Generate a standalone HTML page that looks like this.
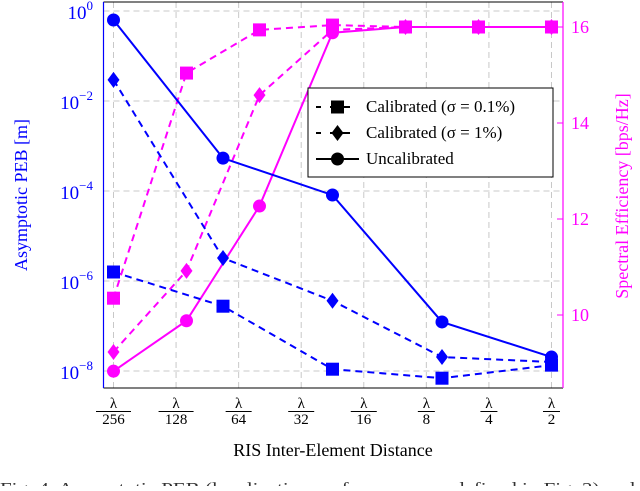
<!DOCTYPE html>
<html><head><meta charset="utf-8"><style>
body{margin:0;background:#fff;width:640px;height:486px;overflow:hidden}
svg text{font-family:"Liberation Serif",serif}
</style></head><body>
<svg id="c" width="640" height="486"></svg>
<script>
const xTicks=['256','128','64','32','16','8','4','2'];
const yLeftExp=[0,-2,-4,-6,-8];
const yRightTicks=[10,12,14,16];
// blue series: log10(PEB), x in tick units
const blueX=[0,1.75,3.5,5.25,7];
const pebCal01=[-5.8,-6.56,-7.96,-8.16,-7.87];
const pebCal1=[-1.53,-5.49,-6.44,-7.69,-7.8];
const pebUncal=[-0.2,-3.27,-4.09,-6.91,-7.69];
// magenta series: spectral efficiency
const magX=[0,1.1667,2.3333,3.5,4.6667,5.8333,7];
const seCal01=[10.35,15.04,15.94,16.04,16,16,16];
const seCal1=[9.23,10.92,14.58,15.94,16,16,16];
const seUncal=[8.83,9.88,12.27,15.88,16,16,16];

const NS='http://www.w3.org/2000/svg';
const svg=document.getElementById('c');
const L=103.5,R=563,T=2,B=388;
const xs=i=>113.5+i*62.57;
const yL=e=>11+(-e)*45;
const yR=v=>27+(16-v)*48;
function el(tag,a,p){const e=document.createElementNS(NS,tag);for(const k in a)e.setAttribute(k,a[k]);(p||svg).appendChild(e);return e;}
function tx(x,y,s,a,p){const t=el('text',Object.assign({x:x,y:y},a||{}),p);t.textContent=s;return t;}

// grid
xTicks.forEach((t,i)=>{const g=el('line',{x1:xs(i),x2:xs(i),y1:T,y2:B,stroke:'#c8c8c8','stroke-dasharray':'6,4','stroke-width':1});
});
yLeftExp.forEach(e=>{const g=el('line',{x1:L,x2:R,y1:yL(e),y2:yL(e),stroke:'#c8c8c8','stroke-dasharray':'6,4','stroke-width':1});
});
// frame
el('line',{x1:L,x2:R,y1:T,y2:T,stroke:'#000','stroke-width':1});
el('line',{x1:L,x2:R,y1:B,y2:B,stroke:'#000','stroke-width':1});
const la=el('line',{x1:L,x2:L,y1:T,y2:B,stroke:'#0000ff','stroke-width':1.2});

const ra=el('line',{x1:R,x2:R,y1:T,y2:B,stroke:'#ff00ff','stroke-width':1.2});

yRightTicks.forEach(v=>{el('line',{x1:R-6,x2:R,y1:yR(v),y2:yR(v),stroke:'#ff00ff'});
const t=tx(R+8,yR(v)+6,String(v),{fill:'#ff00ff','font-size':18});
});
// left tick labels
yLeftExp.forEach(e=>{const t=tx(93,yL(e)+8,'',{fill:'#0000ff','font-size':19,'text-anchor':'end'});
const a=el('tspan',{},t);a.textContent='10';
const b=el('tspan',{dy:-9,'font-size':13},t);b.textContent=(e===0?'0':'\u2212'+(-e));
});
// x tick labels
xTicks.forEach((s,i)=>{const g=el('g',{});

tx(xs(i),408,'λ',{'font-size':15,'text-anchor':'middle'},g);
el('line',{x1:xs(i)-(s.length*4.5+4),x2:xs(i)+(s.length*4.5+4),y1:411.5,y2:411.5,stroke:'#000','stroke-width':0.9},g);
tx(xs(i),424,s,{'font-size':15,'text-anchor':'middle'},g);});

function marker(type,x,y,c,g){
 if(type==='sq')return el('rect',{x:x-6.5,y:y-6.5,width:13,height:13,fill:c},g);
 if(type==='di')return el('polygon',{points:`${x},${y-8} ${x+6},${y} ${x},${y+8} ${x-6},${y}`,fill:c},g);
 return el('circle',{cx:x,cy:y,r:6.5,fill:c},g);
}
function series(name,X,V,yf,c,dash,mk){
 const g=el('g',{});
 const pts=X.map((x,i)=>[xs(x),yf(V[i])]);
 el('polyline',{points:pts.map(p=>p.join(',')).join(' '),fill:'none',stroke:c,'stroke-width':2,'stroke-dasharray':dash?'7,5':'none'},g);
 pts.forEach(q=>{const m=marker(mk,q[0],q[1],c,g);});
}
series('se-calibrated-01',magX,seCal01,yR,'#ff00ff',true,'sq');
series('se-calibrated-1',magX,seCal1,yR,'#ff00ff',true,'di');
series('se-uncalibrated',magX,seUncal,yR,'#ff00ff',false,'ci');
series('peb-calibrated-01',blueX,pebCal01,yL,'#0000ff',true,'sq');
series('peb-calibrated-1',blueX,pebCal1,yL,'#0000ff',true,'di');
series('peb-uncalibrated',blueX,pebUncal,yL,'#0000ff',false,'ci');

// legend
const lg=el('g',{});
el('rect',{x:308,y:88,width:245,height:89,fill:'#fff',stroke:'#000','stroke-width':1},lg);
const ents=[['sq',true,'Calibrated (σ = 0.1%)'],['di',true,'Calibrated (σ = 1%)'],['ci',false,'Uncalibrated']];
ents.forEach((e,i)=>{const y=107+i*26;const g=el('g',{},lg);

el('line',{x1:316,x2:359,y1:y,y2:y,stroke:'#000','stroke-width':2,'stroke-dasharray':e[1]?'5,9,20,9':'none'},g);
marker(e[0],337.5,y,'#000',g);
tx(366,y+5,e[2],{'font-size':17},g);});

// axis titles
const t1=tx(0,0,'Asymptotic PEB [m]',{fill:'#0000ff','font-size':18,'text-anchor':'middle',transform:'translate(27,195) rotate(-90)'});

const t2=tx(0,0,'Spectral Efficiency [bps/Hz]',{fill:'#ff00ff','font-size':18,'text-anchor':'middle',transform:'translate(628,196) rotate(-90)'});

const t3=tx(333,456,'RIS Inter-Element Distance',{'font-size':18,'text-anchor':'middle'});

const cap=tx(0,494,'Fig. 4.   Asymptotic PEB (localization performance, as defined in Fig. 2) and',{'font-size':17,fill:'#333',textLength:635,lengthAdjust:'spacingAndGlyphs'});

</script>
</body></html>
